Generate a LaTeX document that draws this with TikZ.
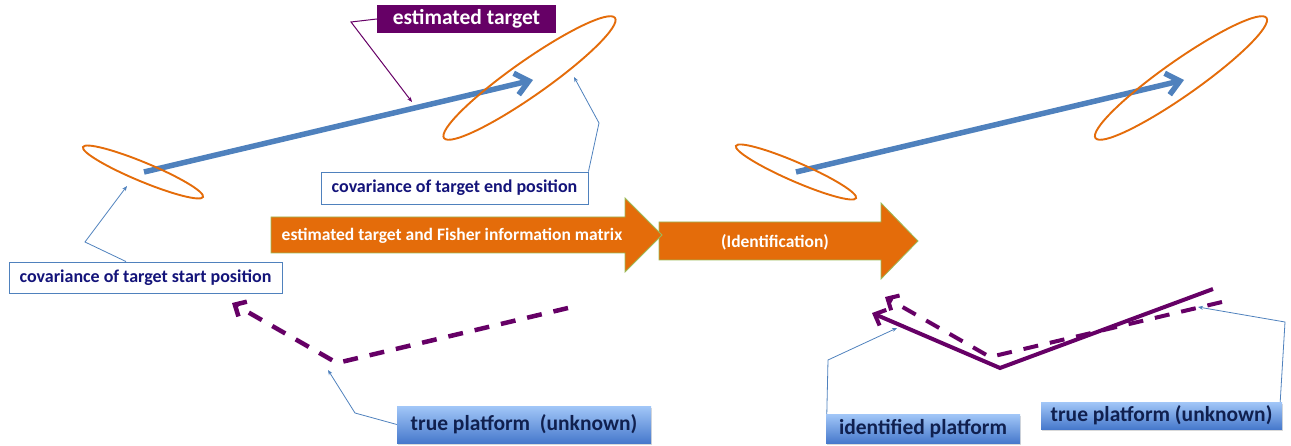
\documentclass[tikz,border=0pt]{standalone}
\usepackage{fontspec}
\setmainfont{Carlito}
\usetikzlibrary{arrows.meta,shadows}
\definecolor{tpurple}{HTML}{660066}
\definecolor{torange}{HTML}{E46C0A}
\definecolor{tgreen}{HTML}{9BBB59}
\definecolor{tblue}{HTML}{4F81BD}
\definecolor{tnavy}{HTML}{14147A}
\definecolor{tdnavy}{HTML}{10204F}
\definecolor{gtop}{HTML}{A2C7F8}
\definecolor{gbot}{HTML}{4779CC}
\begin{document}
\begin{tikzpicture}[x=1pt,y=-1pt,
 covbox/.style={draw=tblue,line width=0.9pt,fill=white,inner sep=0pt,text=tnavy,font=\bfseries\fontsize{18}{20}\selectfont},
 platbox/.style={top color=gtop,bottom color=gbot,draw=none,inner sep=0pt,text=tdnavy,font=\bfseries\fontsize{21.5}{24}\selectfont,drop shadow={opacity=0.3,shadow xshift=1pt,shadow yshift=-1.5pt}},
 callout/.style={draw=tblue,line width=0.8pt,-{Stealth[length=5pt,width=4pt]}},
 pcallout/.style={draw=tpurple,line width=1pt,-{Stealth[length=5pt,width=4pt]}},
 covell/.style={draw=torange,line width=1.9pt},
 track/.style={draw=tblue,line width=5.5pt,-{Straight Barb[length=13pt,width=22pt]}},
 orangearrow/.style={fill=torange,draw=tgreen,line width=0.8pt},
 arrowtext/.style={text=white,font=\bfseries\fontsize{17.5}{20}\selectfont,inner sep=0pt},
 platpath/.style={draw=tpurple,line width=4pt,-{Straight Barb[length=9pt,width=17pt]}},
 platdash/.style={platpath,dash pattern=on 15pt off 12pt},
]
\useasboundingbox (0,0) rectangle (1291,446);

% ---- left: estimated track ----
\coordinate (tsL) at (144,172);
\coordinate (teL) at (533,80);
\draw[track] (tsL) -- (teL);
\draw[covell, rotate around={-22.6:(143,172)}] (143,172) ellipse [x radius=65pt, y radius=9.5pt];
\draw[covell, rotate around={35.1:(529.5,78)}] (529.5,78) ellipse [x radius=104.5pt, y radius=17.5pt];

% ---- right: estimated track ----
\coordinate (tsR) at (796,172);
\coordinate (teR) at (1184,80);
\draw[track] (tsR) -- (teR);
\draw[covell, rotate around={-23.5:(796,172)}] (796,172) ellipse [x radius=65.5pt, y radius=9.5pt];
\draw[covell, rotate around={35.1:(1181,78)}] (1181,78) ellipse [x radius=104.5pt, y radius=17.5pt];

% ---- estimated target label ----
\node[fill=tpurple,text=white,font=\bfseries\fontsize{21.5}{24}\selectfont,minimum width=179pt,minimum height=28pt,inner sep=0pt] (est) at (466.5,19) {estimated target};
\coordinate (estbend) at (351,22);
\coordinate (esttip) at (412,102);
\draw[pcallout] (est.west) -- (estbend) -- (esttip);

% ---- covariance labels ----
\node[covbox,minimum width=273pt,minimum height=31pt] (covS) at (145.5,277.5) {covariance of target start position};
\coordinate (covSbend) at (85,242);
\coordinate (covStip) at (127,186);
\draw[callout] ([xshift=-19.5pt]covS.north) -- (covSbend) -- (covStip);

\node[covbox,minimum width=267pt,minimum height=32pt] (covE) at (454.5,188) {covariance of target end position};
\coordinate (covEbend) at (599,123);
\coordinate (covEtip) at (574,77);
\draw[callout] (covE.north east) -- (covEbend) -- (covEtip);

% ---- big orange arrows ----
\draw[orangearrow] (659,222) -- (881,222) -- (881,203) -- (918,241) -- (881,279) -- (881,260) -- (659,260) -- cycle;
\draw[orangearrow] (271,217) -- (625,217) -- (625,198) -- (662,235) -- (625,272) -- (625,253) -- (271,253) -- cycle;
\node[arrowtext] (fisher) at (452,236) {estimated target and Fisher information matrix};
\node[arrowtext] (ident) at (775,242) {(Identification)};

% ---- left: true platform (dashed) ----
\coordinate (dLend) at (568,308);
\coordinate (dLv) at (337,363);
\coordinate (dLtip) at (232,303);
\draw[platdash,line width=4.5pt] (dLend) -- (dLv) -- (dLtip);
\node[platbox,minimum width=254pt,minimum height=37pt] (tpL) at (524,424.5) {true platform\ \ (unknown)};
\coordinate (tpLbend) at (355,413);
\coordinate (tpLtip) at (328,370);
\draw[callout] (tpL.west) -- (tpLbend) -- (tpLtip);

% ---- right: identified (solid) and true (dashed) platform ----
\coordinate (sRend) at (1213,289);
\coordinate (sRv) at (1000,368);
\coordinate (sRtip) at (872,313);
\draw[platpath] (sRend) -- (sRv) -- (sRtip);
\coordinate (dRend) at (1222,302);
\coordinate (dRv) at (990,357);
\coordinate (dRtip) at (885,297);
\draw[platdash] (dRend) -- (dRv) -- (dRtip);

\node[platbox,minimum width=194pt,minimum height=29pt] (idP) at (923,428.5) {identified platform};
\coordinate (idPbend) at (828,360);
\coordinate (idPtip) at (897,328);
\draw[callout] ([xshift=1pt]idP.north west) -- (idPbend) -- (idPtip);

\node[platbox,minimum width=241pt,minimum height=27pt] (tpR) at (1161.5,415.5) {true platform (unknown)};
\coordinate (tpRbend) at (1285,322);
\coordinate (tpRtip) at (1198,307);
\draw[callout] ([xshift=-2pt]tpR.north east) -- (tpRbend) -- (tpRtip);
\end{tikzpicture}
\end{document}
